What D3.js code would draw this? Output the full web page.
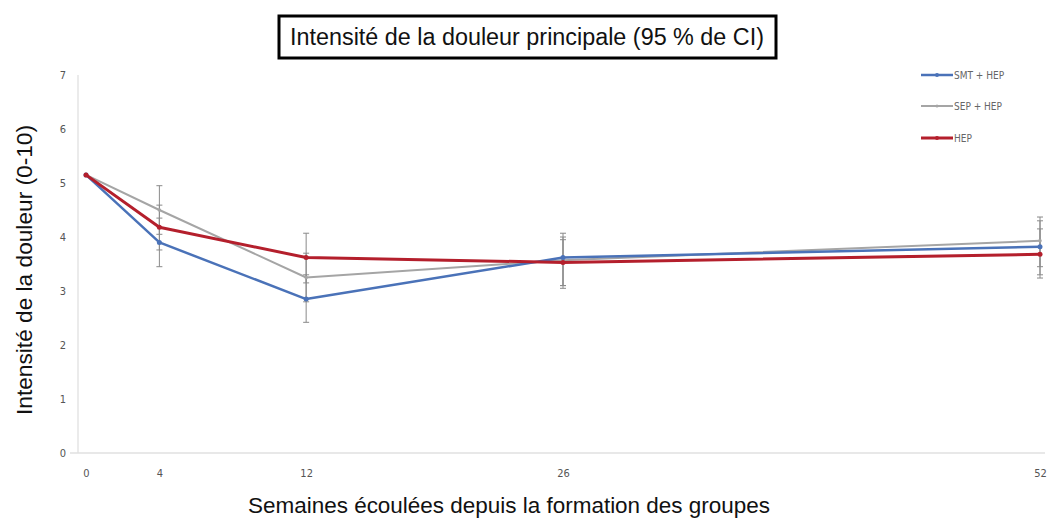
<!DOCTYPE html>
<html><head><meta charset="utf-8">
<script src="https://cdn.jsdelivr.net/npm/d3@7"></script>
<style>body{margin:0;background:#fff}svg{display:block}</style>
</head><body>
<script>
const weeks = [0, 4, 12, 26, 52];
const yTicks = [0, 1, 2, 3, 4, 5, 6, 7];
const seriesNames = ["SMT + HEP", "SEP + HEP", "HEP"];
const smtHep = [5.15, 3.90, 2.85, 3.62, 3.82];
const sepHep = [5.15, 4.50, 3.25, 3.57, 3.93];
const hep = [5.15, 4.18, 3.62, 3.53, 3.68];
const smtLow = [5.15, 3.45, 2.42, 3.10, 3.30];
const smtHigh = [5.15, 4.35, 3.30, 4.07, 4.30];
const sepLow = [5.15, 4.05, 2.80, 3.10, 3.45];
const sepHigh = [5.15, 4.95, 3.70, 4.00, 4.37];
const hepLow = [5.15, 3.76, 3.15, 3.05, 3.24];
const hepHigh = [5.15, 4.59, 4.07, 3.95, 4.15];
const colors = ["#4a72b8", "#a5a5a5", "#b41f2c"];
const widths = [2.5, 2, 3];

const W = 1047, H = 520;
const svg = d3.select("body").append("svg").attr("width", W).attr("height", H);
const x = d3.scaleLinear().domain([0, 52]).range([86, 1040]);
const y = d3.scaleLinear().domain([0, 7]).range([453, 75]);

// title box
svg.append("rect").attr("x", 279).attr("y", 16).attr("width", 497).attr("height", 42)
  .attr("fill", "#fff").attr("stroke", "#000").attr("stroke-width", 3);
svg.append("text").attr("x", 527).attr("y", 45).attr("text-anchor", "middle")
  .attr("font-family", "Liberation Sans, Arial, sans-serif").attr("font-size", 23).attr("fill", "#111")
  .attr("textLength", 474).attr("lengthAdjust", "spacingAndGlyphs")
  .text("Intensité de la douleur principale (95 % de CI)");

// axes lines
svg.append("line").attr("x1", 78).attr("x2", 78).attr("y1", 75).attr("y2", 453).attr("stroke", "#e4e4e4").attr("stroke-width", 1.5);
svg.append("line").attr("x1", 70).attr("x2", 1045).attr("y1", 453).attr("y2", 453).attr("stroke", "#e0e0e0").attr("stroke-width", 1.5);

const tickFont = "DejaVu Sans Condensed, Liberation Sans Narrow, sans-serif";
const yAxis = d3.axisLeft(y).tickValues(yTicks).tickFormat(d3.format("d")).tickSize(0).tickPadding(0);
const gy = svg.append("g").attr("transform", "translate(66,0)").call(yAxis);
gy.select(".domain").remove();
gy.selectAll("text").attr("font-family", tickFont).attr("font-size", 11).attr("fill", "#555");

const xAxis = d3.axisBottom(x).tickValues(weeks).tickFormat(d3.format("d")).tickSize(0).tickPadding(0);
const gx = svg.append("g").attr("transform", "translate(0,469)").call(xAxis);
gx.select(".domain").remove();
gx.selectAll("text").attr("font-family", tickFont).attr("font-size", 11).attr("fill", "#555");

// axis titles
svg.append("text").attr("transform", "translate(32,270) rotate(-90)").attr("text-anchor", "middle")
  .attr("font-family", "Liberation Sans, Arial, sans-serif").attr("font-size", 22).attr("fill", "#111")
  .attr("textLength", 290).attr("lengthAdjust", "spacingAndGlyphs")
  .text("Intensité de la douleur (0-10)");
svg.append("text").attr("x", 509).attr("y", 513).attr("text-anchor", "middle")
  .attr("font-family", "Liberation Sans, Arial, sans-serif").attr("font-size", 22).attr("fill", "#111")
  .attr("textLength", 522).attr("lengthAdjust", "spacingAndGlyphs")
  .text("Semaines écoulées depuis la formation des groupes");

const series = [
  {vals: smtHep, lo: smtLow, hi: smtHigh},
  {vals: sepHep, lo: sepLow, hi: sepHigh},
  {vals: hep, lo: hepLow, hi: hepHigh}
];

// error bars
series.forEach((s, si) => {
  weeks.forEach((w, i) => {
    if (i === 0) return;
    const g = svg.append("g").attr("stroke", "#8a8a8a").attr("stroke-width", 1);
    g.append("line").attr("x1", x(w)).attr("x2", x(w)).attr("y1", y(s.lo[i])).attr("y2", y(s.hi[i]));
    g.append("line").attr("x1", x(w) - 3).attr("x2", x(w) + 3).attr("y1", y(s.lo[i])).attr("y2", y(s.lo[i]));
    g.append("line").attr("x1", x(w) - 3).attr("x2", x(w) + 3).attr("y1", y(s.hi[i])).attr("y2", y(s.hi[i]));
  });
});

const line = d3.line().x((d, i) => x(weeks[i])).y(d => y(d));
[1, 0, 2].forEach(si => {
  const s = series[si];
  svg.append("path").datum(s.vals).attr("d", line).attr("fill", "none")
    .attr("stroke", colors[si]).attr("stroke-width", widths[si]).attr("stroke-linejoin", "round");
  svg.selectAll(null).data(s.vals).enter().append("circle")
    .attr("cx", (d, i) => x(weeks[i])).attr("cy", d => y(d)).attr("r", si === 1 ? 1.8 : 2.5)
    .attr("fill", colors[si]);
});

// legend
const legY = [75, 106, 138];
seriesNames.forEach((n, i) => {
  svg.append("line").attr("x1", 921).attr("x2", 953).attr("y1", legY[i]).attr("y2", legY[i])
    .attr("stroke", colors[i]).attr("stroke-width", widths[i]);
  svg.append("circle").attr("cx", 937).attr("cy", legY[i]).attr("r", i === 1 ? 1.5 : 2).attr("fill", colors[i]);
  svg.append("text").attr("x", 954).attr("y", legY[i] + 3.5).attr("font-family", tickFont)
    .attr("font-size", 10).attr("fill", "#666").text(n);
});
</script>
</body></html>
